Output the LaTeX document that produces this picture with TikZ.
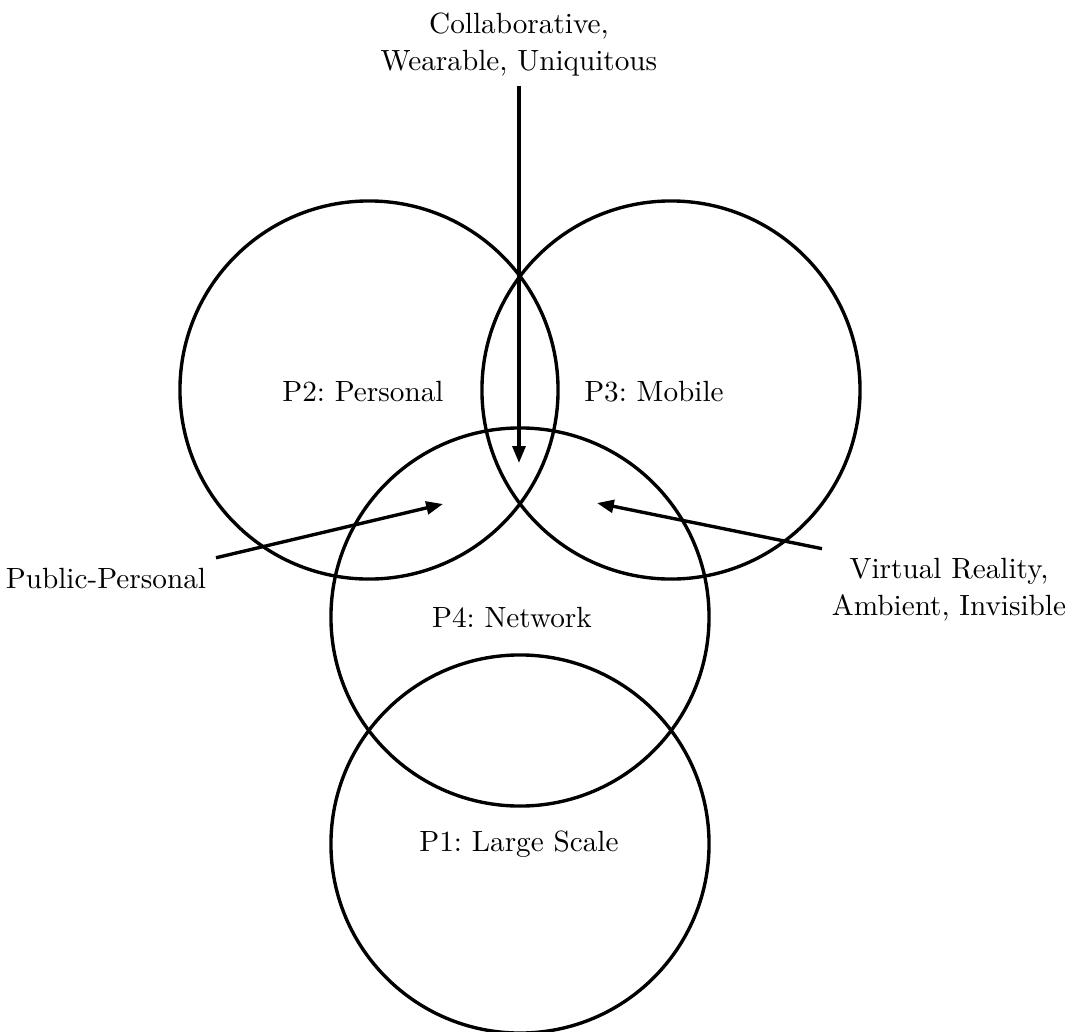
\documentclass[tikz,border=0pt]{standalone}
\usepackage{tikz}
\usetikzlibrary{arrows.meta}
\frenchspacing

\begin{document}
\begin{tikzpicture}[x=0.0125cm, y=-0.0125cm,
            venn/.style={draw, circle, line width=1.2pt, minimum size=4.725cm, inner sep=0pt},
            pointer/.style={-{Triangle[length=2.1mm, width=1.6mm]}, line width=1.2pt},
            txt/.style={font=\fontsize{10.4}{13.1}\selectfont}]
            \useasboundingbox (0,0) rectangle (1074,1032);
            % the four circles
            \node[venn] (p2) at (369,390) {};
            \node[venn] (p3) at (671,390) {};
            \node[venn] (p4) at (520,617) {};
            \node[venn] (p1) at (520,844) {};
            \node[txt, anchor=base] (p2 name) at (363,401) {P2: Personal};
            \node[txt, anchor=base] (p3 name) at (654,401) {P3: Mobile};
            \node[txt, anchor=base] (p4 name) at (512,627) {P4: Network};
            \node[txt, anchor=base] (p1 name) at (519,851) {P1: Large Scale};
            % outer labels and pointers
            \node[txt, align=center] (cwu) at (519,44.5) {Collaborative,\\Wearable, Uniquitous};
            \node[txt, anchor=base] (pp) at (106,588) {Public-Personal};
            \node[txt, align=center] (vai) at (949,590) {Virtual Reality,\\Ambient, Invisible};
            \coordinate (cwu tip) at (519,463);
            \coordinate (pp tip) at (443,504);
            \coordinate (vai tip) at (597,503);
            \draw[pointer] (cwu.south) -- (cwu tip);
            \draw[pointer] (pp.north east) -- (pp tip);
            \draw[pointer] (vai.north west) -- (vai tip);
        \end{tikzpicture}
\end{document}
